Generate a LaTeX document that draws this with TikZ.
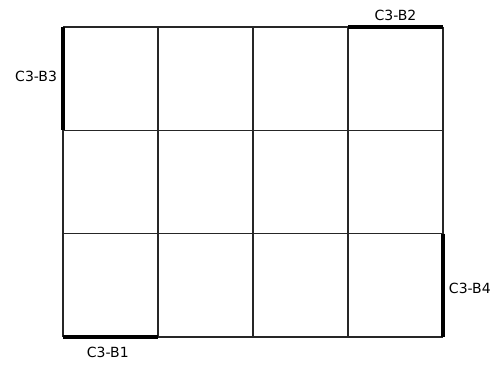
\documentclass[tikz,border=0pt]{standalone}
\usepackage{fontspec}
\setmainfont{DejaVu Sans}
\usetikzlibrary{positioning}

\begin{document}
\begin{tikzpicture}[x=71.25pt, y=-77.5pt, font=\fontsize{10.5}{12}\selectfont,
        celda/.style={draw=black!85, line width=0.8pt},
        borde/.style={line width=3pt, line cap=butt},
        etiq/.style={inner sep=3pt}]
        \useasboundingbox (-0.663,-0.261) rectangle (4.579,3.271);
        \foreach \i in {0,...,4} \draw[celda] (\i,0) -- (\i,3);
        \foreach \j in {0,...,3} \draw[celda] (0,\j) -- (4,\j);
        \coordinate (a0) at (0,0); \coordinate (a1) at (0,1);
        \coordinate (b0) at (3,0); \coordinate (b1) at (4,0);
        \coordinate (c0) at (4,2); \coordinate (c1) at (4,3);
        \coordinate (d0) at (0,3); \coordinate (d1) at (1,3);
        \draw[borde] (a0) -- node[etiq, left, yshift=2pt] (b3) {C3-B3} (a1);
        \draw[borde] (b0) -- node[etiq, above] (b2) {C3-B2} (b1);
        \draw[borde] (c0) -- node[etiq, right, yshift=-2pt] (b4) {C3-B4} (c1);
        \draw[borde] (d0) -- node[etiq, below, xshift=-2pt, yshift=-3pt] (b1n) {C3-B1} (d1);
    \end{tikzpicture}
\end{document}
